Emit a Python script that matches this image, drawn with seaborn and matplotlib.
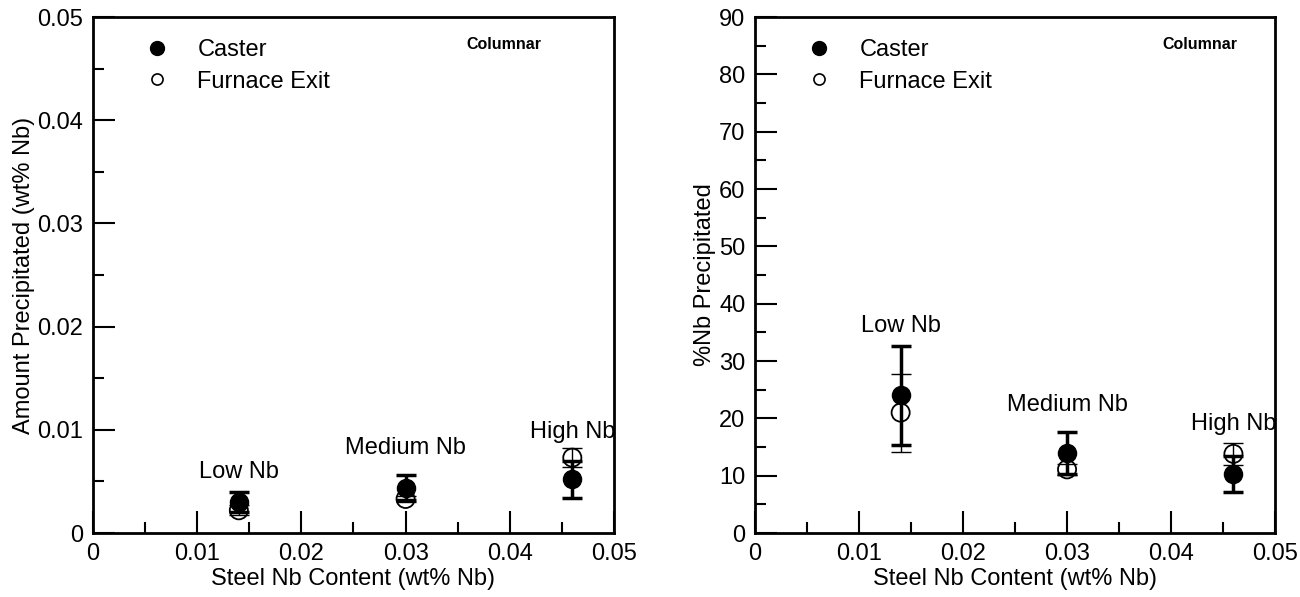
import seaborn as sns
import matplotlib.pyplot as plt
import pandas as pd
from matplotlib.lines import Line2D
from matplotlib.ticker import MultipleLocator, FormatStrFormatter

sns.set_style("ticks")
plt.rcParams['font.family'] = ['Liberation Sans', 'DejaVu Sans']
plt.rcParams['text.color'] = 'black'
plt.rcParams['axes.labelcolor'] = 'black'

# data
grades = ["Low Nb", "Medium Nb", "High Nb"]
steel_nb = [0.014, 0.030, 0.046]

# amount precipitated (wt% Nb)
caster_amt = [0.0030, 0.0044, 0.0052]
caster_amt_err = [0.0010, 0.0012, 0.0018]
furnace_amt = [0.0022, 0.0033, 0.0073]
furnace_amt_err = [0.0005, 0.0003, 0.0009]

# % Nb precipitated
caster_pct = [24.0, 14.0, 10.3]
caster_pct_err = [8.6, 3.7, 3.2]
furnace_pct = [21.0, 11.1, 13.8]
furnace_pct_err = [6.8, 1.0, 1.9]

# label heights for each grade
amt_label_y = [0.0059, 0.0082, 0.0098]
pct_label_y = [36.1, 22.3, 19.0]

fig = plt.figure(figsize=(13, 5.97), dpi=100)
ax1 = fig.add_axes([0.0715, 0.1072, 0.4008, 0.8643])
ax2 = fig.add_axes([0.5808, 0.1072, 0.4, 0.8643])


def draw_panel(ax, c, ce, f, fe, label_y, ymax, ymajor, ylabel, col_x):
    ax.errorbar(steel_nb, c, yerr=ce, fmt='none', ecolor='black',
                elinewidth=2.5, capsize=7.5, capthick=2.5, zorder=2)
    ax.errorbar(steel_nb, f, yerr=fe, fmt='none', ecolor='black',
                elinewidth=1, capsize=7.5, capthick=1, zorder=2)
    df_c = pd.DataFrame({"x": steel_nb, "y": c})
    df_f = pd.DataFrame({"x": steel_nb, "y": f})
    sns.scatterplot(data=df_c, x="x", y="y", ax=ax, color="black", s=170,
                    edgecolor="black", linewidth=1, zorder=3, legend=False)
    sns.scatterplot(data=df_f, x="x", y="y", ax=ax, facecolor="none", s=170,
                    edgecolor="black", linewidth=1.3, zorder=4, legend=False)
    for x, y, g in zip(steel_nb, label_y, grades):
        ax.text(x, y, g, ha="center", va="center", fontsize=17)
    ax.text(col_x, 0.946, "Columnar", transform=ax.transAxes, ha="right",
            va="center", fontsize=11.5, fontweight="bold")

    ax.set_xlim(0, 0.05)
    ax.set_ylim(0, ymax)
    ax.xaxis.set_major_locator(MultipleLocator(0.01))
    ax.xaxis.set_minor_locator(MultipleLocator(0.005))
    ax.yaxis.set_major_locator(MultipleLocator(ymajor))
    ax.yaxis.set_minor_locator(MultipleLocator(ymajor / 2))
    ax.xaxis.set_major_formatter(FormatStrFormatter('%g'))
    ax.yaxis.set_major_formatter(FormatStrFormatter('%g'))
    ax.tick_params(which="both", direction="in", top=False, right=False,
                   labelsize=17, width=1.5, colors="black")
    ax.tick_params(which="major", length=16, pad=7)
    ax.tick_params(which="minor", length=8)
    for s in ax.spines.values():
        s.set_linewidth(2)
        s.set_color("black")
    ax.set_xlabel("Steel Nb Content (wt% Nb)", fontsize=17, labelpad=2)
    ax.set_ylabel(ylabel, fontsize=17, labelpad=2)
    handles = [
        Line2D([], [], ls="none", marker="o", ms=10, mfc="black", mec="black"),
        Line2D([], [], ls="none", marker="o", ms=8, mfc="none", mec="black", mew=1.2),
    ]
    ax.legend(handles, ["Caster", "Furnace Exit"], loc="upper left",
              bbox_to_anchor=(0.06, 0.998), frameon=False, fontsize=17,
              handletextpad=1.2, labelspacing=0.4, handlelength=1.0)


draw_panel(ax1, caster_amt, caster_amt_err, furnace_amt, furnace_amt_err,
           amt_label_y, 0.05, 0.01, "Amount Precipitated (wt% Nb)", 0.86)
draw_panel(ax2, caster_pct, caster_pct_err, furnace_pct, furnace_pct_err,
           pct_label_y, 90, 10, "%Nb Precipitated", 0.927)

fig.savefig("out.png", dpi=100)
